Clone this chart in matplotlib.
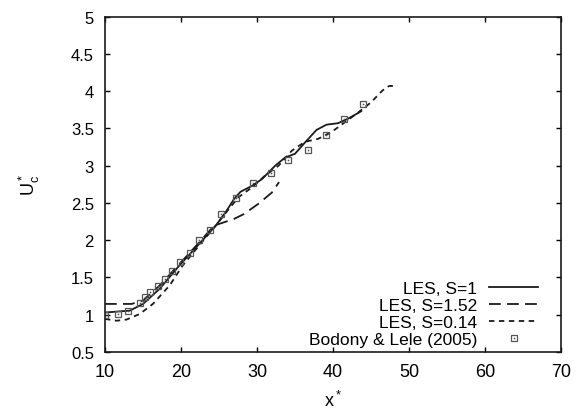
import numpy as np
import matplotlib
matplotlib.use("Agg")
import matplotlib.pyplot as plt

plt.rcParams["font.family"] = ["Liberation Sans", "DejaVu Sans"]
plt.rcParams["mathtext.fontset"] = "custom"
plt.rcParams["mathtext.rm"] = "Liberation Sans"
plt.rcParams["mathtext.it"] = "Liberation Sans"

# %% Data

# LES, S=1
x_s1 = [10, 13.26, 15.0, 17.17, 19.78, 22.39, 24.57, 25.87, 26.96, 27.83,
        29.35, 30.65, 32.39, 33.7, 35.0, 36.3, 37.83, 39.13, 40.65, 41.96, 43.7]
u_s1 = [1.03, 1.055, 1.145, 1.346, 1.66, 1.95, 2.196, 2.375, 2.55, 2.65,
        2.73, 2.82, 3.0, 3.11, 3.16, 3.31, 3.48, 3.55, 3.57, 3.63, 3.73]

# LES, S=1.52
x_s152 = [10, 13.5, 15.0, 17.17, 19.78, 22.39, 24.35, 26.96, 28.26, 30.2, 31.96, 32.9]
u_s152 = [1.145, 1.145, 1.19, 1.39, 1.68, 1.97, 2.196, 2.285, 2.35, 2.49, 2.64, 2.78]

# LES, S=0.14
x_s014 = [10, 11.52, 12.83, 14.57, 16.3, 18.48, 20.22, 22.39, 24.57, 26.3,
          27.6, 29.35, 31.09, 32.83, 34.57, 36.3, 38.04, 39.78, 41.52, 43.26,
          45.0, 46.52, 47.39, 48.48]
u_s014 = [0.944, 0.92, 0.935, 1.01, 1.145, 1.39, 1.66, 1.93, 2.196, 2.42,
          2.58, 2.71, 2.87, 3.0, 3.2, 3.32, 3.36, 3.45, 3.58, 3.71,
          3.85, 4.01, 4.07, 4.07]

# Bodony & Lele (2005)
x_bl = [10, 11.65, 13.04, 14.57, 15.22, 15.87, 16.96, 17.83, 18.78, 19.87,
        21.17, 22.39, 23.78, 25.30, 27.30, 29.43, 31.78, 34.13, 36.65, 39.04,
        41.39, 43.96]
u_bl = [0.99, 1.01, 1.056, 1.158, 1.234, 1.31, 1.39, 1.48, 1.583, 1.713,
        1.829, 2.004, 2.142, 2.352, 2.563, 2.764, 2.907, 3.077, 3.216, 3.408,
        3.632, 3.828]

# %% Plot

fig = plt.figure(figsize=(5.81, 4.10), dpi=100)
ax = fig.add_axes([0.1807, 0.139, 0.785, 0.818])

l1, = ax.plot(x_s1, u_s1, color="#1a1a1a", lw=1.3, ls="-")
l2, = ax.plot(x_s152, u_s152, color="#1a1a1a", lw=1.3, ls=(0, (6.5, 3.5)))
l3, = ax.plot(x_s014, u_s014, color="#1a1a1a", lw=1.3, ls=(0, (3, 2.5)))
m1, = ax.plot(x_bl, u_bl, ls="none", marker="s", ms=5, mfc="none",
              mec="#555555", mew=0.9)
m2, = ax.plot(x_bl, u_bl, ls="none", marker="s", ms=0.8, mfc="#555555",
              mec="#555555", mew=0.3)

ax.set_xlim(10, 70)
ax.set_ylim(0.5, 5)
ax.set_xticks(np.arange(10, 71, 10))
ax.set_yticks(np.arange(0.5, 5.01, 0.5))
ax.set_yticklabels(["0.5", "1", "1.5", "2", "2.5", "3", "3.5", "4", "4.5", "5"])
ax.tick_params(direction="in", top=True, right=True, length=3.5, width=1,
               pad=8)
ax.tick_params(axis="x", labelsize=13)
ax.tick_params(axis="y", labelsize=12)
for s in ax.spines.values():
    s.set_linewidth(1.2)
    s.set_color("#1a1a1a")

ax.set_xlabel(r"x$^*$", fontsize=13, labelpad=7)
ax.set_ylabel(r"U$_{\rm c}^*$", fontsize=13, labelpad=21)

leg = ax.legend([l1, l2, l3, (m1, m2)],
                ["LES, S=1", "LES, S=1.52", "LES, S=0.14", "Bodony & Lele (2005)"],
                loc="lower right", frameon=False, markerfirst=False,
                fontsize=12.5, handlelength=2.8, handletextpad=0.7,
                labelspacing=0.1, borderpad=0, borderaxespad=0,
                bbox_to_anchor=(0.9496, 0.015))
leg._legend_box.align = "right"

plt.savefig("out.png", dpi=100)
plt.close()
